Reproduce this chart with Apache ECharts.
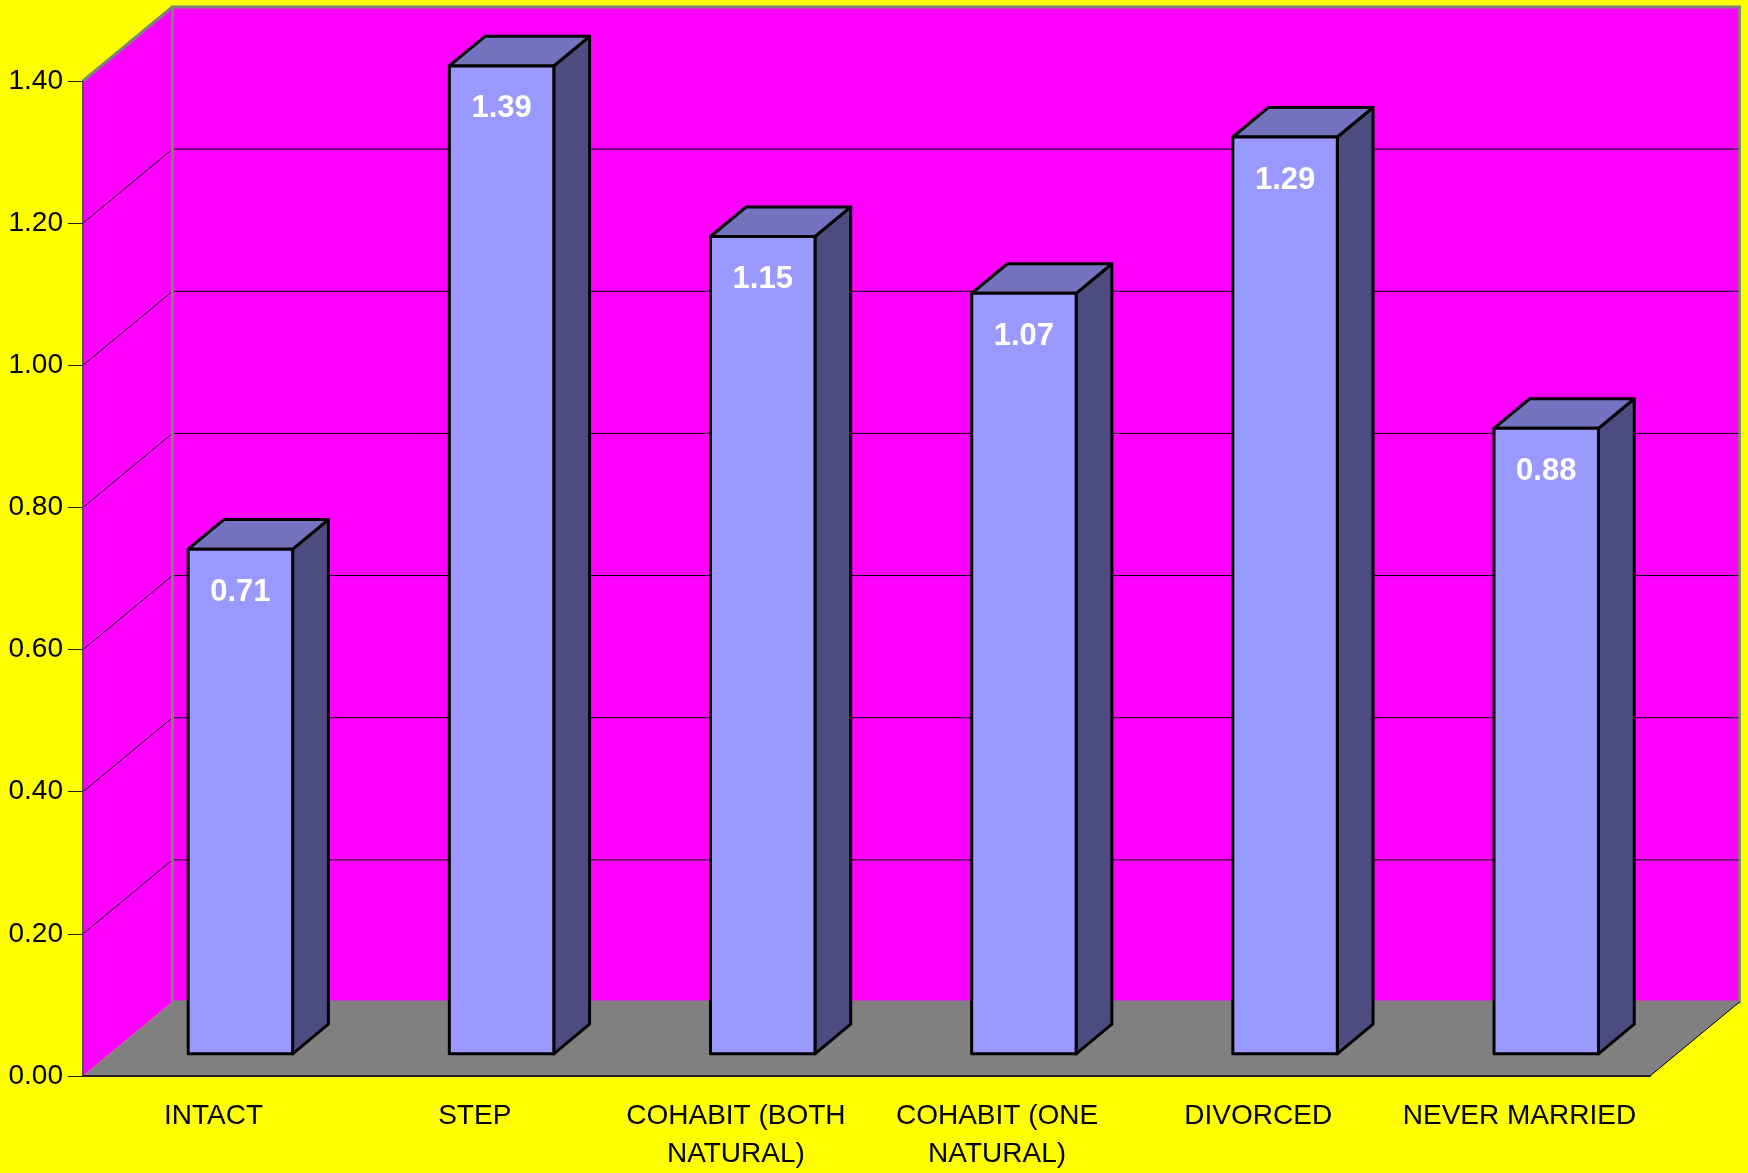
<!DOCTYPE html>
<html><head><meta charset="utf-8">
<style>html,body{margin:0;padding:0;background:#ffff00;}#c{width:1748px;height:1173px;}</style>
<script src="https://cdn.jsdelivr.net/npm/echarts@6/dist/echarts.min.js"></script>
</head><body><div id="c"></div>
<script>
const categories = ['INTACT', 'STEP', 'COHABIT (BOTH\nNATURAL)', 'COHABIT (ONE\nNATURAL)', 'DIVORCED', 'NEVER MARRIED'];
const values = [0.71, 1.39, 1.15, 1.07, 1.29, 0.88];
const yTicks = [0, 0.2, 0.4, 0.6, 0.8, 1.0, 1.2, 1.4];

const Y_MAX = 1.4;
const DX = 89.4, DY = -74;      // depth offset of the 3D box
const FONT = '"Liberation Sans", Arial, sans-serif';

function renderWalls(params, api) {
  const cs = params.coordSys;
  const xl = cs.x, xr = cs.x + cs.width;
  const yb = api.coord([0, 0])[1];
  const yt = api.coord([0, Y_MAX])[1];
  const ch = [];
  ch.push({type: 'polygon', shape: {points: [[xl + DX, yt + DY], [xr + DX, yt + DY], [xr + DX, yb + DY], [xl + DX, yb + DY]]},
    style: {fill: '#ff00ff', stroke: '#808080', lineWidth: 3}});
  ch.push({type: 'polygon', shape: {points: [[xl, yb], [xl, yt], [xl + DX, yt + DY], [xl + DX, yb + DY]]},
    style: {fill: '#ff00ff'}});
  yTicks.forEach(function (v) {
    if (v <= 0 || v >= Y_MAX) return;
    const y = api.coord([0, v])[1];
    ch.push({type: 'line', shape: {x1: xl, y1: y, x2: xl + DX, y2: y + DY}, style: {stroke: '#000', lineWidth: 1}});
    ch.push({type: 'line', shape: {x1: xl + DX, y1: y + DY, x2: xr + DX - 1, y2: y + DY}, style: {stroke: '#000', lineWidth: 1}});
  });
  ch.push({type: 'line', shape: {x1: xl, y1: yt, x2: xl + DX, y2: yt + DY}, style: {stroke: '#808080', lineWidth: 3}});
  ch.push({type: 'line', shape: {x1: xl + DX, y1: yt + DY, x2: xl + DX, y2: yb + DY}, style: {stroke: '#808080', lineWidth: 3}});
  ch.push({type: 'polygon', shape: {points: [[xl, yb], [xr, yb], [xr + DX, yb + DY], [xl + DX, yb + DY]]},
    style: {fill: '#808080'}});
  ch.push({type: 'line', shape: {x1: xr, y1: yb, x2: xr + DX, y2: yb + DY}, style: {stroke: '#000', lineWidth: 1}});
  return {type: 'group', children: ch};
}

function renderBar(params, api) {
  const i = api.value(0), v = api.value(1);
  const base = api.coord([i, 0]), top = api.coord([i, v]);
  const bw = api.size([1, 0])[0];
  const w = bw * 0.4;
  const ox = DX * 0.3, oy = DY * 0.3, dx = DX * 0.4, dy = DY * 0.4;
  const x0 = base[0] - w / 2 + ox, x1 = base[0] + w / 2 + ox;
  const yT = top[1] + oy, yB = base[1] + oy;
  const st = {stroke: '#000', lineWidth: 3, lineJoin: 'round'};
  return {type: 'group', children: [
    {type: 'polygon', shape: {points: [[x1, yT], [x1 + dx, yT + dy], [x1 + dx, yB + dy], [x1, yB]]}, style: Object.assign({fill: '#4c4c80'}, st)},
    {type: 'polygon', shape: {points: [[x0, yT], [x1, yT], [x1 + dx, yT + dy], [x0 + dx, yT + dy]]}, style: Object.assign({fill: '#7373bf'}, st)},
    {type: 'polygon', shape: {points: [[x0, yT], [x1, yT], [x1, yB], [x0, yB]]}, style: Object.assign({fill: '#9999ff'}, st)},
    {type: 'text', x: (x0 + x1) / 2, y: yT + 43, style: {text: v.toFixed(2), fill: '#ffffff', font: 'bold 31px ' + FONT, align: 'center', verticalAlign: 'middle'}}
  ]};
}

const chart = echarts.init(document.getElementById('c'));
chart.setOption({
  backgroundColor: '#ffff00',
  animation: false,
  grid: {left: 83, right: 98, top: 81, bottom: 95, containLabel: false},
  xAxis: {
    type: 'category', data: categories, z: 10,
    axisLine: {lineStyle: {color: '#222', width: 2}},
    axisTick: {length: 16, lineStyle: {color: '#222', width: 1}},
    axisLabel: {color: '#000', fontSize: 28, fontFamily: FONT, margin: 21, lineHeight: 38, interval: 0},
    splitLine: {show: false}
  },
  yAxis: {
    type: 'value', min: 0, max: Y_MAX, interval: 0.2, z: 10,
    axisLine: {show: true, lineStyle: {color: '#555', width: 2}},
    axisTick: {show: true, length: 15, lineStyle: {color: '#222', width: 1}},
    axisLabel: {color: '#000', fontSize: 28, fontFamily: FONT, margin: 20, formatter: function (v) { return v.toFixed(2); }},
    splitLine: {show: false}
  },
  series: [
    {type: 'custom', renderItem: renderWalls, data: [[0, 0]], clip: false, z: 1, silent: true},
    {type: 'custom', renderItem: renderBar, data: values.map(function (v, i) { return [i, v]; }), clip: false, z: 3}
  ]
});
</script></body></html>
